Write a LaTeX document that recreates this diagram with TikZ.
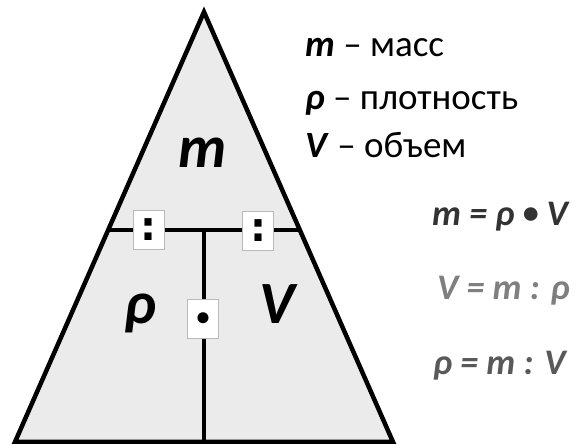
\documentclass[tikz,border=0pt]{standalone}
\usepackage{fontspec}
\setmainfont{Carlito}
\newfontfamily\kvadrat{DejaVu Sans}
\usepackage{xcolor}
\definecolor{fonseryi}{HTML}{EBEBEB}
\definecolor{temnyi}{HTML}{333333}
\definecolor{svetlyi}{HTML}{7F7F7F}
\definecolor{srednii}{HTML}{595959}

\tikzset{
    bukva/.style={font=\fontsize{60}{64}\selectfont\bfseries\itshape, anchor=base},
    znak/.style={draw=gray!55, line width=1pt, fill=white, minimum width=31pt,
        minimum height=39pt, inner sep=0pt, font=\bfseries},
    legenda/.style={font=\fontsize{37}{40}\selectfont, anchor=base west, inner sep=0pt},
    formula/.style={font=\fontsize{36}{38}\selectfont\bfseries\itshape, anchor=base west, inner sep=0pt}
}

\begin{document}
\begin{tikzpicture}[x=1pt, y=1pt, line join=miter]
    \useasboundingbox (0,0) rectangle (582,444);

    % Треугольник
    \coordinate (verh) at (204,432);
    \coordinate (levo) at (15,2);
    \coordinate (pravo) at (393,2);
    \coordinate (sl) at (108.6,214);
    \coordinate (sp) at (299.4,214);
    \coordinate (centr) at (204,214);
    \coordinate (niz) at (204,2);
    \filldraw[fill=fonseryi, line width=4.5pt] (levo) -- (verh) -- (pravo) -- cycle;
    \draw[line width=4.5pt] (sl) -- (sp);
    \draw[line width=4.5pt] (centr) -- (niz);

    % Величины
    \node[bukva] (m) at (203,276) {m};
    \node[bukva] (rho) at (140,120) {ρ};
    \node[bukva] (V) at (277,120) {V};

    % Знаки действий
    \node[znak] (del1) at (148.5,214) {\kvadrat\fontsize{40}{40}\selectfont :};
    \node[znak] (del2) at (258,213) {\kvadrat\fontsize{40}{40}\selectfont :};
    \node[znak] (umn) at (203,125) {\fontsize{26}{26}\selectfont •};

    % Подписи
    \node[legenda] (lm) at (305,387) {\textbf{\textit{m}} – масс};
    \node[legenda] (lrho) at (305,334) {\textbf{\textit{ρ}} – плотность};
    \node[legenda] (lV) at (305,286) {\textbf{\textit{V}} – объем};

    % Формулы
    \node[formula, text=temnyi] (f1) at (432,218) {m = ρ \raisebox{2pt}{\fontsize{32}{32}\selectfont•} V};
    \node[formula, text=svetlyi] (f2) at (437,144) {V = m : ρ};
    \node[formula, text=srednii] (f3) at (433,69) {ρ = m : V};
\end{tikzpicture}
\end{document}
